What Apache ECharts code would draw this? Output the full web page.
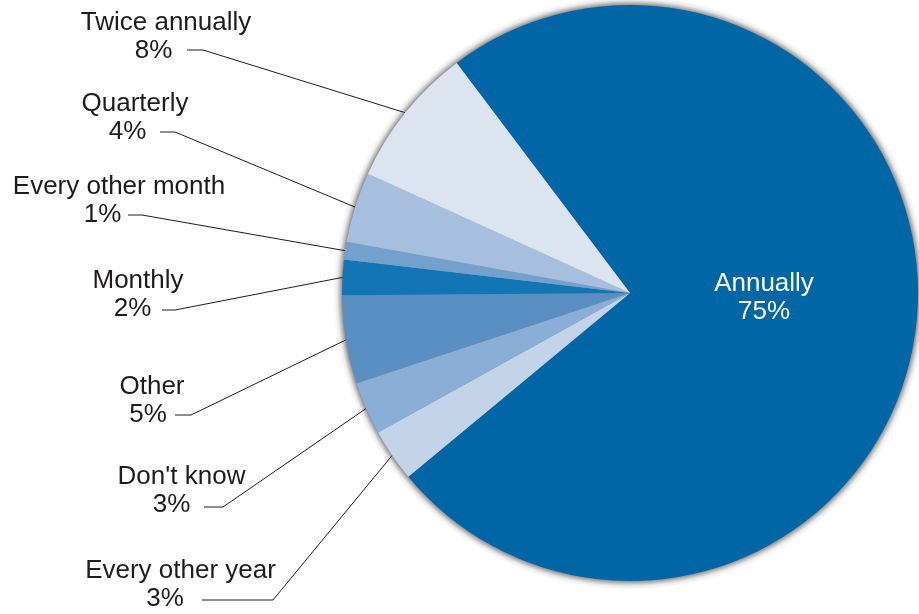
<!DOCTYPE html>
<html>
<head>
<meta charset="utf-8">
<script src="https://cdn.jsdelivr.net/npm/echarts@6/dist/echarts.min.js"></script>
<style>
  html, body { margin: 0; padding: 0; background: #ffffff; }
  #chart { width: 919px; height: 614px; }
</style>
</head>
<body>
<div id="chart"></div>
<script>
// Survey answers: how often the check is done (percent of respondents).
// Listed clockwise starting from the large "Annually" slice.
const categories = ['Annually', 'Every other year', "Don't know", 'Other', 'Monthly', 'Every other month', 'Quarterly', 'Twice annually'];
const shares = [75, 3, 3, 5, 2, 1, 4, 8];

// Slice colours, same order as the categories.
const sliceColors = ['#0066a6', '#c3d4e9', '#8aaed6', '#5a8fc3', '#1276b4', '#74a0cd', '#a6bfdf', '#dce4f0'];

// Where each outside label sits: centre x of the name line, block centre y,
// y of the leader line's horizontal run, its x span, and how far the
// percentage line sits left of the name line.
const labelSpots = {
  'Twice annually':    { x: 166,   y: 37,  lineY: 50,  run: [187, 203], shift: 12.5 },
  'Quarterly':         { x: 135,   y: 118, lineY: 132, run: [160, 175], shift: 7.5 },
  'Every other month': { x: 119,   y: 201, lineY: 215, run: [128, 142], shift: 16.5 },
  'Monthly':           { x: 138,   y: 295, lineY: 310, run: [162, 175], shift: 5.5 },
  'Other':             { x: 152,   y: 401, lineY: 415, run: [175, 191], shift: 4 },
  "Don't know":        { x: 181.5, y: 491, lineY: 507, run: [204, 223], shift: 10 },
  'Every other year':  { x: 180.5, y: 585, lineY: 600, run: [202, 273], shift: 15.5 }
};
const insideSpot = { x: 764, y: 298 };

const FONT = '"Liberation Sans", Arial, sans-serif';
const INK = '#1e1b1c';

const chart = echarts.init(document.getElementById('chart'), null, { renderer: 'canvas' });

const center = [630, 293];
const radius = 288;
const haloRadius = 297;

// Soft halo just outside the rim: a slightly larger pie painted with a
// radial fade from grey at the rim to transparent.
const haloFill = {
  type: 'radial',
  x: center[0], y: center[1], r: haloRadius,
  global: true,
  colorStops: [
    { offset: 0, color: 'rgba(0,0,0,0.5)' },
    { offset: (radius - 1) / haloRadius, color: 'rgba(0,0,0,0.5)' },
    { offset: (radius + 2) / haloRadius, color: 'rgba(0,0,0,0.28)' },
    { offset: (radius + 5) / haloRadius, color: 'rgba(0,0,0,0.08)' },
    { offset: 1, color: 'rgba(0,0,0,0)' }
  ]
};

const pieData = categories.map((name, i) => {
  const item = {
    name: name,
    value: shares[i],
    itemStyle: { color: sliceColors[i] }
  };
  if (i === 0) {
    item.label = { position: 'inside', color: '#ffffff' };
    item.labelLine = { show: false };
  } else {
    const s = labelSpots[name];
    item.label = {
      rich: {
        n: { fontSize: 26, lineHeight: 28, fontFamily: FONT, color: INK },
        v: { fontSize: 26, lineHeight: 28, fontFamily: FONT, color: INK, padding: [0, s.shift * 2, 0, 0] }
      }
    };
  }
  return item;
});

chart.setOption({
  backgroundColor: '#ffffff',
  animation: false,
  series: [
    {
      type: 'pie',
      silent: true,
      z: 1,
      center: center,
      radius: haloRadius,
      startAngle: 127,
      clockwise: true,
      label: { show: false },
      labelLine: { show: false },
      itemStyle: { color: haloFill, borderWidth: 0 },
      data: categories.map((name, i) => ({ name: name, value: shares[i] }))
    },
    {
      type: 'pie',
      z: 2,
      center: center,
      radius: radius,
      startAngle: 127,
      clockwise: true,
      avoidLabelOverlap: false,
      itemStyle: { borderWidth: 0 },
      label: {
        show: true,
        position: 'outside',
        fontFamily: FONT,
        fontSize: 26,
        lineHeight: 28,
        color: INK,
        align: 'center',
        formatter: p => p.dataIndex === 0
          ? p.name + '\n' + p.value + '%'
          : '{n|' + p.name + '}\n{v|' + p.value + '%}'
      },
      labelLine: {
        show: true,
        length: 20,
        length2: 20,
        smooth: false,
        lineStyle: { color: INK, width: 1 }
      },
      labelLayout: function (params) {
        const name = categories[params.dataIndex];
        if (params.dataIndex === 0) {
          return { x: insideSpot.x, y: insideSpot.y, align: 'center', verticalAlign: 'middle' };
        }
        const s = labelSpots[name];
        const edge = params.labelLinePoints ? params.labelLinePoints[0] : null;
        const out = { x: s.x, y: s.y, align: 'center', verticalAlign: 'middle' };
        if (edge) {
          out.labelLinePoints = [
            edge,
            [s.run[1], s.lineY],
            [s.run[0], s.lineY]
          ];
        }
        return out;
      },
      data: pieData
    }
  ]
});
</script>
</body>
</html>
